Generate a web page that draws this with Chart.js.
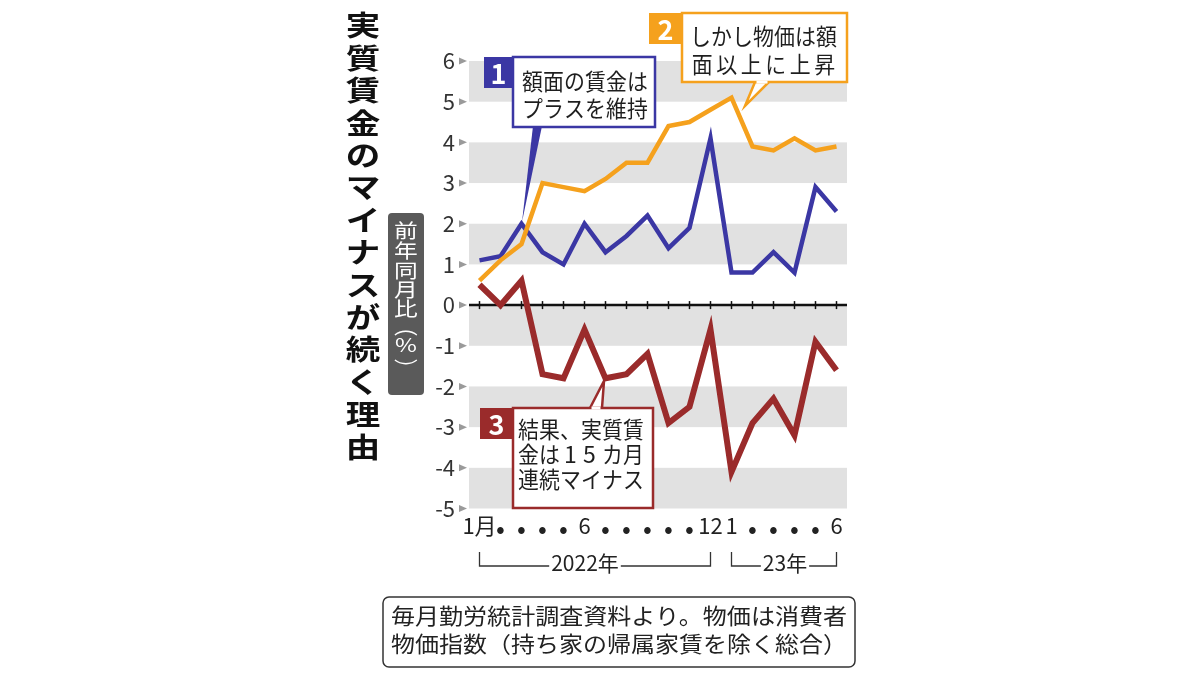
<!DOCTYPE html>
<html>
<head>
<meta charset="utf-8">
<script src="https://cdn.jsdelivr.net/npm/chart.js@4"></script>
<style>
  html, body { margin: 0; padding: 0; background: #fff; }
  #wrap { width: 1200px; height: 675px; }
</style>
</head>
<body>
<div id="wrap"><canvas id="chart" width="1200" height="675"></canvas></div>
<script>
// months Jan 2022 .. Jun 2023
const xTickLabels = ['1月', '•', '•', '•', '•', '6', '•', '•', '•', '•', '•', '12', '1', '•', '•', '•', '•', '6'];
const nominalWage = [1.1, 1.2, 2.0, 1.3, 1.0, 2.0, 1.3, 1.7, 2.2, 1.4, 1.9, 4.1, 0.8, 0.8, 1.3, 0.8, 2.9, 2.3];
const prices      = [0.6, 1.1, 1.5, 3.0, 2.9, 2.8, 3.1, 3.5, 3.5, 4.4, 4.5, 4.8, 5.1, 3.9, 3.8, 4.1, 3.8, 3.9];
const realWage    = [0.5, 0.0, 0.6, -1.7, -1.8, -0.6, -1.8, -1.7, -1.2, -2.9, -2.5, -0.6, -4.1, -2.9, -2.3, -3.2, -0.9, -1.6];
const yMin = -5, yMax = 6;

const FONT = "'Noto Sans CJK JP', 'Noto Sans', sans-serif";
const BLUE = '#3b37a4';
const ORANGE = '#f5a11d';
const RED = '#9a2b2b';

// draw one char per slot, scaled
function charsAt(ctx, chars, x0, y, pitch, size, opts = {}) {
  const sx = opts.sx || 1, sy = opts.sy || 1;
  ctx.save();
  ctx.font = `${opts.weight || 'normal'} ${size}px ${FONT}`;
  ctx.fillStyle = opts.color || '#1e1e1e';
  ctx.textAlign = 'center';
  ctx.textBaseline = 'middle';
  [...chars].forEach((ch, i) => {
    ctx.save();
    ctx.translate(x0 + pitch * (i + 0.5), y);
    ctx.scale(sx, sy);
    ctx.fillText(ch, 0, 0);
    ctx.restore();
  });
  ctx.restore();
}

function verticalText(ctx, chars, x, ys, size, opts = {}) {
  ctx.save();
  ctx.font = `${opts.weight || 'normal'} ${size}px ${FONT}`;
  ctx.fillStyle = opts.color || '#111';
  ctx.textAlign = 'center';
  ctx.textBaseline = 'middle';
  [...chars].forEach((ch, i) => {
    ctx.save();
    ctx.translate(x, ys[i]);
    ctx.scale(opts.sx || 1, opts.sy || 1);
    ctx.fillText(ch, 0, 0);
    ctx.restore();
  });
  ctx.restore();
}

function callout(ctx, box, sq, color, num, tail, tailFilled) {
  ctx.save();
  // tail
  ctx.beginPath();
  ctx.moveTo(tail[0][0], tail[0][1]);
  ctx.lineTo(tail[1][0], tail[1][1]);
  ctx.lineTo(tail[2][0], tail[2][1]);
  ctx.closePath();
  ctx.lineWidth = 2.5;
  ctx.strokeStyle = color;
  ctx.lineJoin = 'miter';
  if (tailFilled) {
    ctx.fillStyle = color;
    ctx.fill();
  } else {
    ctx.fillStyle = '#fff';
    ctx.fill();
    ctx.stroke();
  }
  // box
  ctx.fillStyle = '#fff';
  ctx.fillRect(box.x, box.y, box.w, box.h);
  ctx.strokeRect(box.x, box.y, box.w, box.h);
  // open the tail join
  if (!tailFilled) {
    ctx.beginPath();
    ctx.moveTo(tail[0][0] + 1.5, tail[0][1]);
    ctx.lineTo(tail[2][0] - 1.5, tail[2][1]);
    ctx.lineWidth = 3;
    ctx.strokeStyle = '#fff';
    ctx.stroke();
  }
  // number square
  ctx.fillStyle = color;
  ctx.fillRect(sq.x, sq.y, sq.w, sq.h);
  ctx.font = `bold 27px ${FONT}`;
  ctx.fillStyle = '#fff';
  ctx.textAlign = 'center';
  ctx.textBaseline = 'middle';
  ctx.fillText(num, sq.x + sq.w / 2, sq.y + sq.h / 2 + 1);
  ctx.restore();
}

const decor = {
  id: 'decor',
  beforeDatasetsDraw(chart) {
    const { ctx, chartArea: a, scales: { x, y } } = chart;
    ctx.save();
    // alternating bands
    ctx.fillStyle = '#e1e1e1';
    for (let v = yMax; v > yMin; v -= 2) {
      const t = y.getPixelForValue(v), b = y.getPixelForValue(v - 1);
      ctx.fillRect(a.left, t, a.right - a.left, b - t);
    }
    // tick triangles
    ctx.fillStyle = '#9a9a9a';
    for (let v = yMin; v <= yMax; v++) {
      const py = y.getPixelForValue(v);
      ctx.beginPath();
      ctx.moveTo(a.left - 10, py - 3.5);
      ctx.lineTo(a.left - 2, py);
      ctx.lineTo(a.left - 10, py + 3.5);
      ctx.closePath();
      ctx.fill();
    }
    // zero line with month ticks
    const z = y.getPixelForValue(0);
    ctx.strokeStyle = '#111';
    ctx.lineWidth = 2.5;
    ctx.beginPath();
    ctx.moveTo(a.left, z);
    ctx.lineTo(a.right, z);
    ctx.stroke();
    ctx.lineWidth = 1.5;
    xTickLabels.forEach((_, i) => {
      const px = x.getPixelForValue(i);
      ctx.beginPath();
      ctx.moveTo(px, z - 4);
      ctx.lineTo(px, z + 4);
      ctx.stroke();
    });
    ctx.restore();
  },
  afterDraw(chart) {
    const { ctx, scales: { x } } = chart;

    // title
    const title = '実質賃金のマイナスが続く理由';
    verticalText(ctx, title, 363, [...title].map((_, i) => 25.5 + i * 32.4), 30,
      { weight: 'bold', sx: 1.15, sy: 0.95, color: '#111' });

    // y axis unit label
    ctx.save();
    ctx.fillStyle = '#5a5a5a';
    ctx.beginPath();
    ctx.roundRect(388, 213, 36, 182, 4);
    ctx.fill();
    ctx.restore();
    verticalText(ctx, '前年同月比︵%︶', 406, [231, 251, 271, 290, 309, 327, 345, 369], 22,
      { color: '#fff', sx: 1.08, sy: 0.88 });

    // callouts
    callout(ctx, { x: 513, y: 57, w: 142, h: 70 }, { x: 484, y: 57, w: 29, h: 31 }, BLUE, '1',
      [[533, 126], [522, 222], [542, 126]], true);
    charsAt(ctx, '額面の賃金は', 522, 81, 21, 22, { sx: 0.95, sy: 1.02 });
    charsAt(ctx, 'プラスを維持', 522, 108, 21, 22, { sx: 0.95, sy: 1.02 });

    callout(ctx, { x: 682, y: 13, w: 165, h: 69 }, { x: 649, y: 13, w: 33, h: 31 }, ORANGE, '2',
      [[755, 82], [745, 106], [769, 82]], false);
    charsAt(ctx, 'しかし物価は額', 690, 36, 21, 22, { sx: 0.95, sy: 1.02 });
    charsAt(ctx, '面以上に上昇', 690, 64, 24.5, 22, { sx: 0.95, sy: 1.02 });

    callout(ctx, { x: 513, y: 408, w: 140, h: 100 }, { x: 480, y: 408, w: 33, h: 31 }, RED, '3',
      [[590, 408], [604, 381], [602, 408]], false);
    charsAt(ctx, '結果、実質賃', 518, 429, 21, 22, { sx: 0.95, sy: 1.02 });
    charsAt(ctx, '金は', 518, 454, 21, 22, { sx: 0.95, sy: 1.02 });
    charsAt(ctx, '15', 561, 454, 19, 23, { sx: 1, sy: 1 });
    charsAt(ctx, 'カ月', 602, 454, 21, 22, { sx: 0.95, sy: 1.02 });
    charsAt(ctx, '連続マイナス', 518, 479, 21, 22, { sx: 0.95, sy: 1.02 });

    // year brackets
    ctx.save();
    ctx.strokeStyle = '#333';
    ctx.lineWidth = 1.3;
    ctx.font = `21px ${FONT}`;
    ctx.fillStyle = '#222';
    ctx.textAlign = 'center';
    ctx.textBaseline = 'middle';
    const bracket = (i0, i1, label, cx) => {
      const l = x.getPixelForValue(i0), r = x.getPixelForValue(i1), yb = 566, yt = 552;
      const tw = ctx.measureText(label).width + 4;
      ctx.beginPath();
      ctx.moveTo(l, yt); ctx.lineTo(l, yb); ctx.lineTo(cx - tw / 2, yb);
      ctx.moveTo(cx + tw / 2, yb); ctx.lineTo(r, yb); ctx.lineTo(r, yt);
      ctx.stroke();
      ctx.fillText(label, cx, 563);
    };
    bracket(0, 11, '2022年', 585);
    bracket(12, 17, '23年', 785);
    ctx.restore();

    // source note
    ctx.save();
    ctx.strokeStyle = '#333';
    ctx.lineWidth = 1.5;
    ctx.beginPath();
    ctx.roundRect(383, 597, 472, 70, 6);
    ctx.stroke();
    ctx.fillStyle = '#222';
    ctx.font = `22px ${FONT}`;
    ctx.textBaseline = 'middle';
    ctx.textAlign = 'left';
    const lines = ['毎月勤労統計調査資料より。物価は消費者', '物価指数（持ち家の帰属家賃を除く総合）'];
    lines.forEach((t, i) => {
      const w = ctx.measureText(t).width;
      ctx.save();
      ctx.translate(391, 616 + i * 28);
      ctx.scale(456 / w, 1);
      ctx.fillText(t, 0, 0);
      ctx.restore();
    });
    ctx.restore();
  }
};

new Chart(document.getElementById('chart'), {
  type: 'line',
  data: {
    labels: xTickLabels,
    datasets: [
      { label: '実質賃金', data: realWage, borderColor: RED, borderWidth: 6 },
      { label: '消費者物価', data: prices, borderColor: ORANGE, borderWidth: 4.5 },
      { label: '名目賃金', data: nominalWage, borderColor: BLUE, borderWidth: 4.5 }
    ]
  },
  options: {
    responsive: false,
    animation: false,
    layout: { padding: { left: 300, right: 353, top: 61, bottom: 126.5 } },
    elements: { point: { radius: 0 }, line: { tension: 0, fill: false } },
    plugins: { legend: { display: false }, tooltip: { enabled: false } },
    scales: {
      x: {
        offset: true,
        grid: { display: false, drawTicks: false },
        border: { display: false },
        afterFit: s => { s.height = 40; },
        ticks: {
          autoSkip: false, maxRotation: 0, minRotation: 0, padding: 4,
          color: '#222',
          font: c => ({ family: FONT, size: c.tick && c.tick.label === '•' ? 26 : 22 })
        }
      },
      y: {
        min: yMin, max: yMax,
        grid: { display: false, drawTicks: false },
        border: { display: false },
        afterFit: s => { s.width = 169; },
        ticks: {
          stepSize: 1, padding: 14, color: '#333',
          font: { family: FONT, size: 22 }
        }
      }
    }
  },
  plugins: [decor]
});
</script>
</body>
</html>
